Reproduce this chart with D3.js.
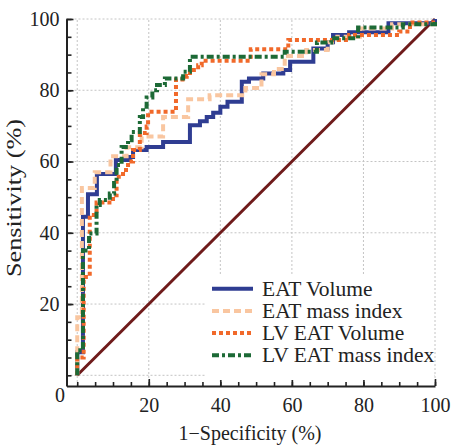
<!DOCTYPE html>
<html lang="en">
<head>
    <meta charset="UTF-8">
    <script src="https://d3js.org/d3.v7.min.js"></script>
    <title>ROC curves</title>
    <style>
        body { margin: 0; background: #fff; }
        text { font-family: "Liberation Serif", "Times New Roman", serif; fill: #222; }
        .grid line { stroke: #c4c4c4; stroke-width: 1px; stroke-dasharray: 2,2; }
        .axis path, .axis line { stroke: #222; }
        .axis path { stroke-width: 2px; }
        .axis line { stroke-width: 1.6px; }
        .curve { fill: none; stroke-width: 4px; }
    </style>
</head>
<body>
<script>
    // ROC step points: at each fpr the curve rises to tpr (values in %)
    var eatVolumeFpr = [0, 0, 1.6, 3, 5.5, 10.8, 14.7, 15.6, 19.4, 24, 31.5, 34.3, 36.2, 38, 40, 42, 46, 48, 52, 57.6, 59.5, 66, 70, 71.5, 76, 87, 100];
    var eatVolumeTpr = [0, 6.5, 44.5, 50.8, 56.5, 60.4, 61.3, 63.2, 64.1, 65.5, 70.2, 71.3, 72.5, 73.7, 75.4, 76.8, 82.4, 83.3, 84.7, 85.7, 88, 91.7, 93.5, 95.5, 96.3, 98.8, 100];

    var eatMassFpr = [0, 0, 1.3, 4.9, 9.3, 13.8, 18, 24, 31, 37, 47, 51.5, 55, 58, 64, 70, 72.7, 79, 88, 100];
    var eatMassTpr = [0, 16.3, 52.6, 57, 61.5, 64, 67, 72.5, 77.5, 78.6, 80.6, 84.5, 86, 89.6, 91.3, 93.5, 95, 97.3, 98.5, 100];

    var lvVolumeFpr = [0, 0, 1.8, 3.5, 5.4, 10, 11, 12.8, 14.2, 15.6, 17.5, 19.4, 19.8, 27.6, 30.6, 31.5, 33.8, 34.8, 48.5, 59, 76, 90, 93, 100];
    var lvVolumeTpr = [0, 5, 27.6, 45, 48.5, 50.5, 55.7, 57.6, 60, 63.2, 68, 69.8, 74, 83, 84, 85.7, 87, 88.3, 91.5, 94.1, 95.5, 96.5, 99, 100];

    var lvMassFpr = [0, 0, 1.6, 3.3, 5.4, 6.3, 9.1, 10.3, 11, 12.4, 14.2, 15.2, 17.5, 18.4, 19.4, 21, 22.3, 24.5, 29.6, 31.5, 58, 67, 71, 78.5, 91, 100];
    var lvMassTpr = [0, 7, 35, 39.8, 47.8, 49.2, 51, 54, 59, 64.1, 66, 68.3, 72.5, 75.4, 78, 80, 81.5, 83.3, 85.2, 89.4, 90.8, 93.4, 94.6, 97.6, 98.5, 100];

    var seriesNames = ["EAT Volume", "EAT mass index", "LV EAT Volume", "LV EAT mass index"];
    var seriesColors = ["#2f3d92", "#f9c6a0", "#f1692a", "#1d6a36"];
    var seriesDashes = ["none", "7,4", "4,3", "7,3,3,3"];

    var gridValues = [0, 20, 40, 60, 80, 100];
    var majorTicks = [20, 40, 60, 80, 100];
    var minorTicks = d3.range(0, 101, 5);

    var width = 454, height = 447;

    var svg = d3.select("body").append("svg")
        .attr("width", width)
        .attr("height", height);

    // axes start a little below zero, like the original
    var x = d3.scaleLinear().domain([-3, 100]).range([66.5, 435]);
    var y = d3.scaleLinear().domain([-3, 100]).range([386, 19]);

    // dotted grid
    var grid = svg.append("g").attr("class", "grid");
    grid.selectAll(".vx").data(gridValues).enter().append("line")
        .attr("x1", function (d) { return x(d); })
        .attr("x2", function (d) { return x(d); })
        .attr("y1", y(-3)).attr("y2", y(100));
    grid.selectAll(".hy").data(gridValues).enter().append("line")
        .attr("y1", function (d) { return y(d); })
        .attr("y2", function (d) { return y(d); })
        .attr("x1", x(-3)).attr("x2", x(100));

    // reference diagonal
    svg.append("line")
        .attr("x1", x(0)).attr("y1", y(0))
        .attr("x2", x(100)).attr("y2", y(100))
        .attr("stroke", "#6f1b1b")
        .attr("stroke-width", 3);

    // curves
    var line = d3.line()
        .x(function (d) { return x(d[0]); })
        .y(function (d) { return y(d[1]); })
        .curve(d3.curveStepAfter);

    var seriesData = [
        d3.zip(eatVolumeFpr, eatVolumeTpr),
        d3.zip(eatMassFpr, eatMassTpr),
        d3.zip(lvVolumeFpr, lvVolumeTpr),
        d3.zip(lvMassFpr, lvMassTpr)
    ];

    seriesData.forEach(function (data, i) {
        svg.append("path")
            .datum(data)
            .attr("class", "curve")
            .attr("d", line)
            .attr("stroke", seriesColors[i])
            .attr("stroke-dasharray", seriesDashes[i]);
    });

    // axes: minor ticks inward, longer major ticks with labels
    svg.append("g")
        .attr("class", "axis")
        .attr("transform", "translate(0," + y(-3) + ")")
        .call(d3.axisBottom(x).tickValues(minorTicks).tickSize(-4).tickSizeOuter(0).tickFormat(""));
    var xMajor = svg.append("g")
        .attr("class", "axis")
        .attr("transform", "translate(0," + y(-3) + ")")
        .call(d3.axisBottom(x).tickValues(majorTicks).tickSize(-7).tickSizeOuter(0).tickPadding(12));
    xMajor.select(".domain").remove();
    xMajor.selectAll("text").attr("font-size", 20).style("font-family", "Liberation Serif");

    svg.append("g")
        .attr("class", "axis")
        .attr("transform", "translate(" + x(-3) + ",0)")
        .call(d3.axisLeft(y).tickValues(minorTicks).tickSize(-5).tickSizeOuter(0).tickFormat(""));
    var yMajor = svg.append("g")
        .attr("class", "axis")
        .attr("transform", "translate(" + x(-3) + ",0)")
        .call(d3.axisLeft(y).tickValues(majorTicks).tickSize(-7).tickSizeOuter(0).tickPadding(7));
    yMajor.select(".domain").remove();
    yMajor.selectAll("text").attr("font-size", 20).style("font-family", "Liberation Serif");

    // corner zero
    svg.append("text")
        .attr("x", x(-3) - 1.5)
        .attr("y", 402)
        .attr("text-anchor", "end")
        .attr("font-size", 20)
        .text("0");

    // axis titles
    svg.append("text")
        .attr("transform", "translate(21,198) rotate(-90)")
        .attr("text-anchor", "middle")
        .attr("font-size", 20)
        .attr("textLength", 158)
        .attr("lengthAdjust", "spacingAndGlyphs")
        .text("Sensitivity (%)");

    svg.append("text")
        .attr("x", 250)
        .attr("y", 440)
        .attr("text-anchor", "middle")
        .attr("font-size", 20)
        .text("1\u2212Specificity (%)");

    // legend
    var legend = svg.append("g");
    legend.append("rect")
        .attr("x", 205).attr("y", 276)
        .attr("width", 229).attr("height", 104)
        .attr("fill", "#fff");
    seriesNames.forEach(function (name, i) {
        var ly = 288.7 + i * 22.2;
        legend.append("line")
            .attr("x1", 212).attr("x2", 253)
            .attr("y1", ly).attr("y2", ly)
            .attr("stroke", seriesColors[i])
            .attr("stroke-width", 4)
            .attr("stroke-dasharray", seriesDashes[i]);
        legend.append("text")
            .attr("x", 262)
            .attr("y", ly + 7)
            .attr("font-size", 21.5)
            .text(name);
    });
</script>
</body>
</html>
